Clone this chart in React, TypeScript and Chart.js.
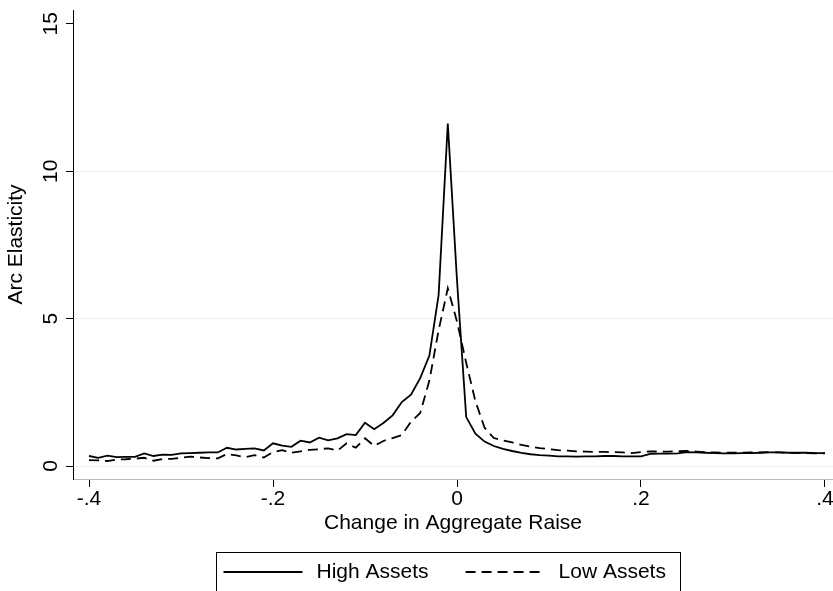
import React, { useEffect, useRef } from 'react';
import { Chart, registerables } from 'chart.js';

Chart.register(...registerables);

// ---- Data ----
const xValues = [
  -0.40, -0.39, -0.38, -0.37, -0.36, -0.35, -0.34, -0.33, -0.32, -0.31,
  -0.30, -0.29, -0.28, -0.27, -0.26, -0.25, -0.24, -0.23, -0.22, -0.21,
  -0.20, -0.19, -0.18, -0.17, -0.16, -0.15, -0.14, -0.13, -0.12, -0.11,
  -0.10, -0.09, -0.08, -0.07, -0.06, -0.05, -0.04, -0.03, -0.02, -0.01,
  0.00, 0.01, 0.02, 0.03, 0.04, 0.05, 0.06, 0.07, 0.08, 0.09,
  0.10, 0.11, 0.12, 0.13, 0.14, 0.15, 0.16, 0.17, 0.18, 0.19,
  0.20, 0.21, 0.22, 0.23, 0.24, 0.25, 0.26, 0.27, 0.28, 0.29,
  0.30, 0.31, 0.32, 0.33, 0.34, 0.35, 0.36, 0.37, 0.38, 0.39,
  0.40,
];

const highAssets = [
  0.34, 0.28, 0.35, 0.30, 0.31, 0.31, 0.43, 0.34, 0.39, 0.38,
  0.43, 0.44, 0.45, 0.46, 0.46, 0.62, 0.56, 0.58, 0.60, 0.53,
  0.77, 0.69, 0.65, 0.86, 0.80, 0.96, 0.87, 0.94, 1.08, 1.05,
  1.47, 1.25, 1.46, 1.72, 2.17, 2.42, 2.98, 3.75, 5.80, 11.62,
  6.30, 1.66, 1.10, 0.83, 0.68, 0.58, 0.51, 0.45, 0.40, 0.37,
  0.35, 0.33, 0.33, 0.32, 0.33, 0.33, 0.34, 0.34, 0.33, 0.33,
  0.33, 0.41, 0.42, 0.42, 0.43, 0.47, 0.46, 0.45, 0.44, 0.43,
  0.43, 0.44, 0.44, 0.45, 0.46, 0.46, 0.45, 0.45, 0.45, 0.44,
  0.44,
];

const lowAssets = [
  0.20, 0.19, 0.17, 0.22, 0.23, 0.25, 0.28, 0.18, 0.24, 0.24,
  0.28, 0.32, 0.29, 0.27, 0.26, 0.41, 0.36, 0.30, 0.37, 0.29,
  0.47, 0.54, 0.45, 0.50, 0.55, 0.57, 0.60, 0.52, 0.77, 0.62,
  0.94, 0.68, 0.85, 0.95, 1.05, 1.50, 1.80, 2.90, 4.60, 6.03,
  4.90, 3.50, 2.20, 1.30, 0.95, 0.87, 0.80, 0.72, 0.66, 0.61,
  0.57, 0.54, 0.52, 0.50, 0.49, 0.48, 0.48, 0.47, 0.46, 0.44,
  0.47, 0.50, 0.49, 0.49, 0.50, 0.51, 0.49, 0.47, 0.46, 0.45,
  0.45, 0.45, 0.46, 0.46, 0.47, 0.46, 0.45, 0.44, 0.44, 0.43,
  0.43,
];

const seriesLabels = ['High Assets', 'Low Assets'];
const xTickValues = [-0.4, -0.2, 0, 0.2, 0.4];
const xTickLabels = ['-.4', '-.2', '0', '.2', '.4'];
const yTickValues = [0, 5, 10, 15];
const yTickLabels = ['0', '5', '10', '15'];
const xTitle = 'Change in Aggregate Raise';
const yTitle = 'Arc Elasticity';

const FONT = "'Liberation Sans', Arial, sans-serif";
const FONT_SIZE = 21;
const GRID = '#e8f0f2';

const boxLegend = {
  id: 'boxLegend',
  afterDraw(chart: any) {
    const ctx = chart.ctx as CanvasRenderingContext2D;
    const ds = chart.data.datasets;
    ctx.save();
    ctx.font = `${FONT_SIZE}px ${FONT}`;
    const sample = 79;
    const gapText = 14;
    const gapItem = 37;
    const padL = 7;
    const padR = 15;
    const widths = ds.map((d: any) => ctx.measureText(d.label).width);
    let total = 0;
    widths.forEach((w: number, i: number) => {
      total += sample + gapText + w + (i < widths.length - 1 ? gapItem : 0);
    });
    const boxLeft = 216.5;
    const boxTop = 552.5;
    ctx.strokeStyle = '#000';
    ctx.lineWidth = 1;
    ctx.setLineDash([]);
    ctx.strokeRect(boxLeft, boxTop, Math.round(total + padL + padR), 80);
    let x = boxLeft + padL;
    const y = 572;
    ds.forEach((d: any, i: number) => {
      ctx.beginPath();
      ctx.strokeStyle = d.borderColor;
      ctx.lineWidth = d.borderWidth;
      ctx.setLineDash(d.borderDash || []);
      ctx.moveTo(x, y);
      ctx.lineTo(x + sample, y);
      ctx.stroke();
      ctx.setLineDash([]);
      x += sample + gapText;
      ctx.fillStyle = '#000';
      ctx.textBaseline = 'middle';
      ctx.textAlign = 'left';
      ctx.fillText(d.label, x, y);
      x += widths[i] + gapItem;
    });
    ctx.restore();
  },
};

export default function App() {
  const canvasRef = useRef<HTMLCanvasElement | null>(null);

  useEffect(() => {
    document.body.style.margin = '0';
    const canvas = canvasRef.current;
    if (!canvas) return;
    Chart.defaults.font.family = FONT;
    Chart.defaults.font.size = FONT_SIZE;
    Chart.defaults.color = '#000';

    const chart = new Chart(canvas, {
      type: 'line',
      data: {
        datasets: [
          {
            label: seriesLabels[0],
            data: xValues.map((x, i) => ({ x, y: highAssets[i] })),
            borderColor: '#000',
            borderWidth: 1.8,
            pointRadius: 0,
            tension: 0,
            fill: false,
          },
          {
            label: seriesLabels[1],
            data: xValues.map((x, i) => ({ x, y: lowAssets[i] })),
            borderColor: '#000',
            borderWidth: 1.8,
            borderDash: [10, 6],
            pointRadius: 0,
            tension: 0,
            fill: false,
          },
        ],
      },
      options: {
        animation: false,
        responsive: false,
        devicePixelRatio: 1,
        layout: { padding: { top: 10, bottom: 51, left: 0, right: 0 } },
        plugins: {
          legend: { display: false },
          tooltip: { enabled: false },
        },
        scales: {
          x: {
            type: 'linear',
            min: -0.4174,
            max: 0.4087,
            afterBuildTicks: (scale: any) => {
              scale.ticks = xTickValues.map((v) => ({ value: v }));
            },
            afterFit: (scale: any) => {
              scale.height = 61;
              scale.paddingLeft = 0;
              scale.paddingRight = 0;
            },
            ticks: {
              autoSkip: false,
              maxRotation: 0,
              minRotation: 0,
              padding: 0,
              color: '#000',
              callback: (v: any) => {
                const i = xTickValues.findIndex((t) => Math.abs(t - Number(v)) < 1e-9);
                return i >= 0 ? xTickLabels[i] : '';
              },
            },
            grid: {
              drawOnChartArea: false,
              drawTicks: true,
              tickLength: 8,
              tickColor: '#000',
              tickWidth: 1,
            },
            border: { display: true, color: '#b8b8b8', width: 1 },
            title: {
              display: true,
              text: xTitle,
              color: '#000',
              padding: { top: 4, bottom: 4 },
            },
          },
          y: {
            type: 'linear',
            min: -0.44,
            max: 15.47,
            afterBuildTicks: (scale: any) => {
              scale.ticks = yTickValues.map((v) => ({ value: v }));
            },
            afterFit: (scale: any) => {
              scale.width = 73;
              scale.paddingTop = 0;
              scale.paddingBottom = 0;
            },
            ticks: {
              autoSkip: false,
              minRotation: 90,
              maxRotation: 90,
              crossAlign: 'center',
              padding: 3,
              color: '#000',
              callback: (v: any) => {
                const i = yTickValues.findIndex((t) => Math.abs(t - Number(v)) < 1e-9);
                return i >= 0 ? yTickLabels[i] : '';
              },
            },
            grid: {
              color: (ctx: any) =>
                ctx.tick && ctx.tick.value === 15 ? 'rgba(0,0,0,0)' : GRID,
              lineWidth: 1,
              drawTicks: true,
              tickLength: 7,
              tickColor: '#000',
              tickWidth: 1,
            },
            border: { display: true, color: '#000', width: 1 },
            title: {
              display: true,
              text: yTitle,
              color: '#000',
              padding: { top: 4, bottom: 4 },
            },
          },
        },
      },
      plugins: [boxLegend],
    } as any);

    return () => {
      chart.destroy();
    };
  }, []);

  return (
    <div style={{ width: 833, height: 591, background: '#fff' }}>
      <canvas ref={canvasRef} width={833} height={591} style={{ display: 'block' }} />
    </div>
  );
}
